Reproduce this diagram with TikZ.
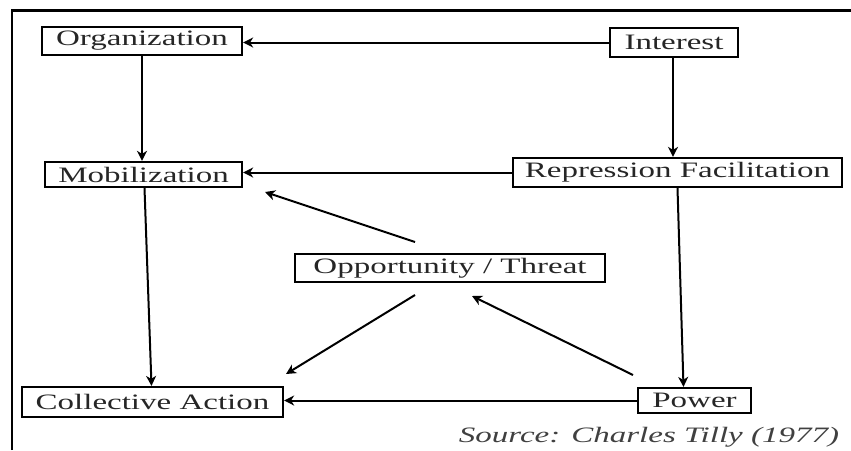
\documentclass[tikz,border=0pt]{standalone}
\usepackage{fontspec}
\setmainfont{Liberation Serif}
\usetikzlibrary{arrows.meta}
\newcommand{\wide}[1]{\scalebox{1.5}[1]{#1}}

\begin{document}
\begin{tikzpicture}[x=1pt, y=-1pt,
    box/.style={draw, line width=2.2pt, inner sep=0pt, align=center, font=\fontsize{22}{24}\selectfont, text=black!85},
    arr/.style={line width=2pt, -{Stealth[length=10pt,width=10pt,inset=3pt]}}]
        \useasboundingbox (0,0) rectangle (851,450);
        % frame
        \draw[line width=2.4pt] (12,450) -- (12,10.5) -- (851,10.5);

        \node[box, minimum width=200pt, minimum height=28pt] (org) at (142,41) {\wide{Organization}};
        \node[box, minimum width=128pt, minimum height=29pt] (int) at (674,42.5) {\wide{Interest}};
        \node[box, minimum width=197pt, minimum height=25pt] (mob) at (143.5,174.5) {\wide{Mobilization}};
        \node[box, minimum width=329pt, minimum height=29pt] (rep) at (677.5,172.5) {\wide{Repression Facilitation}};
        \node[box, minimum width=310pt, minimum height=28pt] (opp) at (450,268) {\wide{Opportunity / Threat}};
        \node[box, minimum width=261pt, minimum height=30pt] (col) at (152.5,402) {\wide{Collective Action}};
        \node[box, minimum width=113pt, minimum height=25pt] (pow) at (694.5,400.5) {\wide{Power}};
        \node[font=\fontsize{22}{24}\selectfont\itshape, text=black!75] (src) at (649,437) {\wide{Source: Charles Tilly (1977)}};

        \coordinate (oppA) at (415,242);
        \coordinate (mobA) at (265,192);
        \coordinate (oppB) at (415,295);
        \coordinate (colB) at (286,374);
        \coordinate (powC) at (633,375);
        \coordinate (oppC) at (472,296);

        \draw[arr] (int.west) -- (int.west -| org.east);
        \draw[arr] (org.south) -- (org.south |- mob.north);
        \draw[arr] ([xshift=-1pt]int.south) -- ([xshift=-1pt]int.south |- rep.north);
        \draw[arr] (rep.west) -- (rep.west -| mob.east);
        \draw[arr] ([xshift=1pt]mob.south) -- ([xshift=-1pt]col.north);
        \draw[arr] (rep.south) -- ([xshift=-11pt]pow.north);
        \draw[arr] (pow.west) -- (pow.west -| col.east);
        \draw[arr] (oppA) -- (mobA);
        \draw[arr] (oppB) -- (colB);
        \draw[arr] (powC) -- (oppC);
    \end{tikzpicture}
\end{document}
